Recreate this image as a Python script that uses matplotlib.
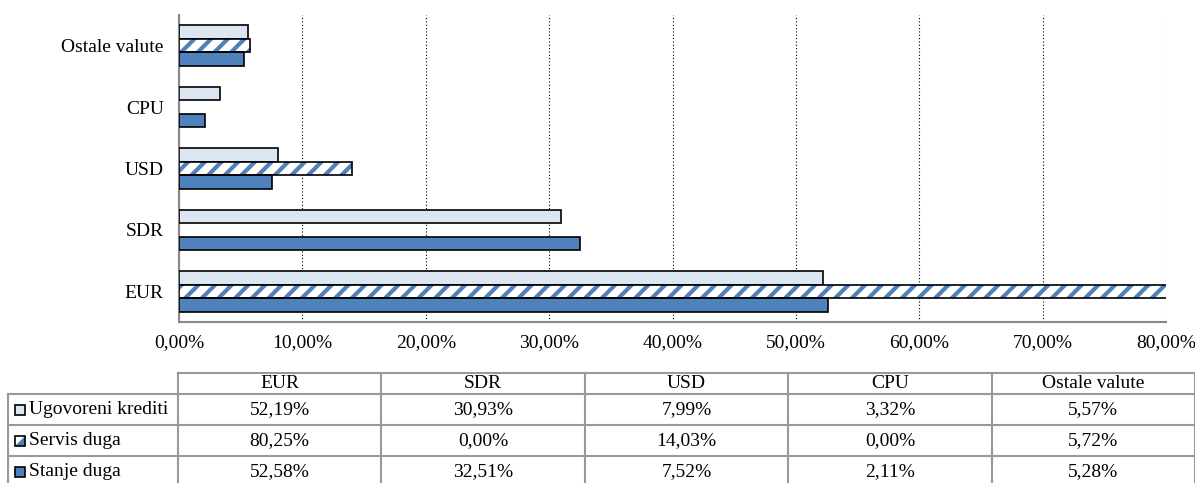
import numpy as np
import matplotlib
matplotlib.use('Agg')
import matplotlib.pyplot as plt
from matplotlib.patches import Rectangle, Polygon
from matplotlib.lines import Line2D

# data
categories = ['EUR', 'SDR', 'USD', 'CPU', 'Ostale valute']
series     = ['Ugovoreni krediti', 'Servis duga', 'Stanje duga']
ugovoreni  = [52.19, 30.93, 7.99, 3.32, 5.57]
servis     = [80.25, 0.00, 14.03, 0.00, 5.72]
stanje     = [52.58, 32.51, 7.52, 2.11, 5.28]
x_ticks    = [0, 10, 20, 30, 40, 50, 60, 70, 80]

light = '#DCE6F2'
blue  = '#4F81BD'
fs = 14
plt.rcParams['font.family'] = ['Liberation Serif', 'DejaVu Serif']
plt.rcParams['hatch.linewidth'] = 3.0

def pct(v):
    return ('%.2f%%' % v).replace('.', ',')

fig = plt.figure(figsize=(11.95, 4.83), dpi=100)
W, H = 1195.0, 483.0
ax = fig.add_axes([179/W, 1-322/H, (1166-179)/W, (322-15)/H])

y = np.arange(len(categories))
h = 0.22
def nz(v):
    v = np.array(v, dtype=float)
    return np.where(v > 0, v, np.nan)

ax.barh(y + h, nz(ugovoreni), h, color=light, edgecolor='black', lw=1.2, zorder=3)
ax.barh(y, nz(servis), h, color='white', edgecolor=blue, hatch='//', lw=0, zorder=3)
ax.barh(y, nz(servis), h, fill=False, edgecolor='black', lw=1.2, zorder=4)
ax.barh(y - h, nz(stanje), h, color=blue, edgecolor='black', lw=1.2, zorder=3)

ax.set_xlim(0, 80)
ax.set_ylim(-0.5, len(categories) - 0.5)
ax.set_xticks(x_ticks)
ax.set_xticklabels([pct(t) for t in x_ticks], fontsize=fs)
ax.set_yticks(y)
ax.set_yticklabels(categories, fontsize=fs)
ax.tick_params(length=0, pad=9, axis='x')
ax.tick_params(length=0, pad=11, axis='y')
ax.grid(axis='x', color='black', ls=(0, (1, 2)), lw=0.8, zorder=1)
for s in ['top', 'right']:
    ax.spines[s].set_visible(False)
for s in ['left', 'bottom']:
    ax.spines[s].set_color('#888888')
    ax.spines[s].set_linewidth(1.5)

# data table below the chart
grid = '#999999'
col_x = [178 + i * (1195 - 178) / 5.0 for i in range(6)]
row_y = [373, 394, 425, 456, 487]
def fx(px): return px / W
def fy(py): return 1 - py / H

def hline(x0, x1, yy):
    fig.add_artist(Line2D([fx(x0), fx(x1)], [fy(yy), fy(yy)], color=grid, lw=1.5))
def vline(xx, y0, y1):
    fig.add_artist(Line2D([fx(xx), fx(xx)], [fy(y0), fy(y1)], color=grid, lw=1.5))

hline(178, 1195, row_y[0])
for yy in row_y[1:]:
    hline(8, 1195, yy)
vline(8, row_y[1], row_y[-1])
for xx in col_x:
    vline(xx, row_y[0], row_y[-1])

for i, c in enumerate(categories):
    fig.text(fx((col_x[i] + col_x[i+1]) / 2), fy((row_y[0] + row_y[1]) / 2), c,
             ha='center', va='center', fontsize=fs)

rows = [ugovoreni, servis, stanje]
for r, (name, vals) in enumerate(zip(series, rows)):
    yc = (row_y[r+1] + row_y[r+2]) / 2
    for i, v in enumerate(vals):
        fig.text(fx((col_x[i] + col_x[i+1]) / 2), fy(yc), pct(v),
                 ha='center', va='center', fontsize=fs)
    fig.text(fx(29), fy(yc), name, ha='left', va='center', fontsize=fs)
    # legend key
    x0, y0, s = 15, yc - 5, 10
    if r == 1:
        fig.add_artist(Rectangle((fx(x0), fy(y0 + s)), fx(s), s / H, facecolor='white', lw=0))
        fig.add_artist(Polygon([[fx(x0), fy(y0 + s)], [fx(x0 + s), fy(y0 + s)], [fx(x0 + s), fy(y0)]],
                               closed=True, facecolor=blue, lw=0))
        fig.add_artist(Rectangle((fx(x0), fy(y0 + s)), fx(s), s / H, fill=False, edgecolor='black', lw=1.2))
    else:
        fc = light if r == 0 else blue
        fig.add_artist(Rectangle((fx(x0), fy(y0 + s)), fx(s), s / H, facecolor=fc,
                                 edgecolor='black', lw=1.2))

fig.savefig('out.png', dpi=100)
